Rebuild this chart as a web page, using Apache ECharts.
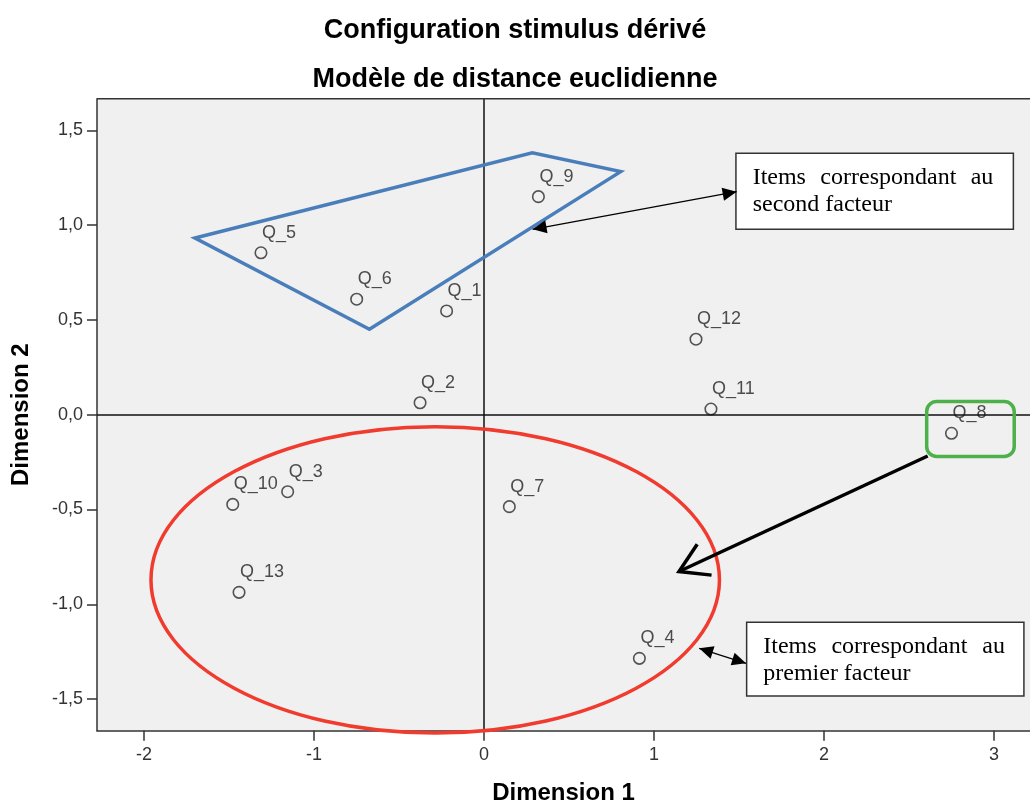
<!DOCTYPE html>
<html><head><meta charset="utf-8">
<script src="https://cdn.jsdelivr.net/npm/echarts@6/dist/echarts.min.js"></script>
<style>html,body{margin:0;padding:0;background:#fff}#c{width:1030px;height:805px}</style>
</head><body><div id="c"></div>
<script>
// ---- data ----
const items = ['Q_1','Q_2','Q_3','Q_4','Q_5','Q_6','Q_7','Q_8','Q_9','Q_10','Q_11','Q_12','Q_13'];
const dim1  = [-0.22, -0.376, -1.155, 0.914, -1.312, -0.749, 0.149, 2.75, 0.32, -1.478, 1.335, 1.247, -1.441];
const dim2  = [0.547, 0.063, -0.406, -1.285, 0.854, 0.609, -0.485, -0.098, 1.15, -0.473, 0.03, 0.398, -0.937];
const xTicks = [-2, -1, 0, 1, 2, 3];
const yTicks = [-1.5, -1, -0.5, 0, 0.5, 1, 1.5];
const titleText = 'Configuration stimulus dérivé';
const subtitleText = 'Modèle de distance euclidienne';
const xName = 'Dimension 1';
const yName = 'Dimension 2';
const box1Words = ['Items', 'correspondant', 'au'];
const box1Line2 = 'second facteur';
const box2Words = ['Items', 'correspondant', 'au'];
const box2Line2 = 'premier facteur';

// ---- annotation geometry (data units) ----
const outlineSecond = [[-1.70, 0.932], [0.284, 1.381], [0.804, 1.282], [-0.674, 0.451]];
const ellipseFirst = [-0.287, -0.871, 1.672, 0.808];
const rectQ8 = [[2.604, 0.069], [3.119, -0.22]];
const box1 = [[1.482, 1.379], [3.114, 0.978]];
const box2 = [[1.545, -1.095], [3.176, -1.484]];
const arrowSecond = [[1.486, 1.176], [0.286, 0.978]];
const arrowQ8 = [[2.61, -0.218], [1.147, -0.827]];
const arrowFirst = [[1.266, -1.232], [1.541, -1.311]];

const points = items.map((n, i) => [dim1[i], dim2[i], n]);
const sans = 'Liberation Sans';
const fmtY = v => v.toFixed(1).replace('.', ',');
const xMin = -2.2765, xMax = 3.2118, yMin = -5/3, yMax = 5/3;

const chart = echarts.init(document.getElementById('c'));
chart.setOption({
  animation: false,
  backgroundColor: '#fff',
  title: [
    {text: titleText, left: 'center', top: 12, textStyle: {fontFamily: sans, fontWeight: 'bold', fontSize: 27, color: '#000'}},
    {text: subtitleText, left: 'center', top: 61, textStyle: {fontFamily: sans, fontWeight: 'bold', fontSize: 27, color: '#000'}}
  ],
  grid: {left: 97, top: 98.7, right: 0, bottom: 74.3, outerBoundsMode: 'none', containLabel: false,
    show: true, backgroundColor: '#F0F0F0', borderWidth: 0},
  xAxis: {
    type: 'value', min: xMin, max: xMax,
    name: xName, nameLocation: 'middle', nameGap: 51,
    nameTextStyle: {fontFamily: sans, fontWeight: 'bold', fontSize: 24, color: '#000'},
    axisLine: {onZero: false, lineStyle: {color: '#333', width: 1.5}},
    axisTick: {customValues: xTicks, length: 10, lineStyle: {color: '#333', width: 1.5}},
    axisLabel: {customValues: xTicks, margin: 15, fontFamily: sans, fontSize: 18, color: '#333', formatter: v => String(v)},
    splitLine: {show: false}
  },
  yAxis: {
    type: 'value', min: yMin, max: yMax,
    name: yName, nameLocation: 'middle', nameGap: 64,
    nameTextStyle: {fontFamily: sans, fontWeight: 'bold', fontSize: 24, color: '#000'},
    axisLine: {onZero: false, lineStyle: {color: '#333', width: 1.5}},
    axisTick: {customValues: yTicks, length: 10, lineStyle: {color: '#333', width: 1.5}},
    axisLabel: {customValues: yTicks, margin: 14, fontFamily: sans, fontSize: 18, color: '#333', formatter: fmtY},
    splitLine: {show: false}
  },
  series: [{
    type: 'scatter', data: points, symbol: 'circle', symbolSize: 11.5,
    itemStyle: {color: 'transparent', borderColor: '#2a2a2a', borderWidth: 1.6},
    label: {show: true, position: 'inside', align: 'left', verticalAlign: 'middle', offset: [1, -20],
      formatter: p => p.data[2], fontFamily: sans, fontSize: 18, color: '#222'},
    emphasis: {disabled: true},
    markLine: {silent: true, symbol: 'none', animation: false, label: {show: false},
      lineStyle: {color: '#111', width: 1.5, type: 'solid'}, data: [{xAxis: 0}, {yAxis: 0}]},
    z: 3
  }]
});

const P = v => chart.convertToPixel({gridIndex: 0}, v);
const ctx = document.createElement('canvas').getContext('2d');
const serifFont = '24px "Liberation Serif"';
ctx.font = serifFont;

function head(tip, from, len, hw) {
  const dx = tip[0] - from[0], dy = tip[1] - from[1], L = Math.hypot(dx, dy);
  const ux = dx / L, uy = dy / L, bx = tip[0] - ux * len, by = tip[1] - uy * len;
  return [[bx - uy * hw, by + ux * hw], tip, [bx + uy * hw, by - ux * hw]];
}
const G = [];
// top border of the plot area
{
  const a = P([xMin, yMax]), b = P([xMax, yMax]);
  G.push({type: 'line', z: 50, shape: {x1: a[0], y1: a[1], x2: b[0] + 5, y2: b[1]}, style: {stroke: '#333', lineWidth: 1.5}});
}
// blue polygon
G.push({type: 'polygon', z: 100, shape: {points: outlineSecond.map(P)}, style: {fill: 'none', stroke: '#4A7EBB', lineWidth: 3.5, lineJoin: 'miter'}});
// red ellipse
{
  const c = P([ellipseFirst[0], ellipseFirst[1]]);
  const e = P([ellipseFirst[0] + ellipseFirst[2], ellipseFirst[1] + ellipseFirst[3]]);
  G.push({type: 'ellipse', z: 100, shape: {cx: c[0], cy: c[1], rx: e[0] - c[0], ry: c[1] - e[1]}, style: {fill: 'none', stroke: '#F03B2E', lineWidth: 3.5}});
}
// green rounded rect
{
  const a = P(rectQ8[0]), b = P(rectQ8[1]);
  G.push({type: 'rect', z: 100, shape: {x: a[0], y: a[1], width: b[0] - a[0], height: b[1] - a[1], r: 10}, style: {fill: 'none', stroke: '#4DB04A', lineWidth: 3.5}});
}
// text boxes
function textBox(box, words, line2, padL, padR) {
  const a = P(box[0]), b = P(box[1]);
  G.push({type: 'rect', z: 100, shape: {x: a[0], y: a[1], width: b[0] - a[0], height: b[1] - a[1]}, style: {fill: '#fff', stroke: '#333', lineWidth: 1.5}});
  const left = a[0] + padL, right = b[0] - padR;
  const ws = words.map(w => ctx.measureText(w).width);
  const gap = (right - left - ws.reduce((s, v) => s + v, 0)) / (words.length - 1);
  let x = left;
  words.forEach((w, i) => {
    G.push({type: 'text', z: 101, style: {text: w, x: x, y: a[1] + 24, font: serifFont, fill: '#000', align: 'left', verticalAlign: 'middle'}});
    x += ws[i] + gap;
  });
  G.push({type: 'text', z: 101, style: {text: line2, x: left, y: a[1] + 51, font: serifFont, fill: '#000', align: 'left', verticalAlign: 'middle'}});
}
textBox(box1, box1Words, box1Line2, 16.7, 20);
textBox(box2, box2Words, box2Line2, 16.6, 19);
// thin double arrows
function dblArrow(seg) {
  const s = P(seg[0]), t = P(seg[1]);
  G.push({type: 'line', z: 102, shape: {x1: s[0], y1: s[1], x2: t[0], y2: t[1]}, style: {stroke: '#000', lineWidth: 1.3}});
  G.push({type: 'polygon', z: 102, shape: {points: head(t, s, 14, 6.5)}, style: {fill: '#000'}});
  G.push({type: 'polygon', z: 102, shape: {points: head(s, t, 14, 6.5)}, style: {fill: '#000'}});
}
dblArrow(arrowSecond);
dblArrow(arrowFirst);
// thick arrow from Q_8
{
  const s = P(arrowQ8[0]), t = P(arrowQ8[1]);
  G.push({type: 'line', z: 102, shape: {x1: s[0], y1: s[1], x2: t[0], y2: t[1]}, style: {stroke: '#000', lineWidth: 3.5}});
  G.push({type: 'polyline', z: 102, shape: {points: head(t, s, 28, 17)}, style: {fill: 'none', stroke: '#000', lineWidth: 3.5, lineJoin: 'miter'}});
}
chart.setOption({graphic: G});
</script>
</body></html>
